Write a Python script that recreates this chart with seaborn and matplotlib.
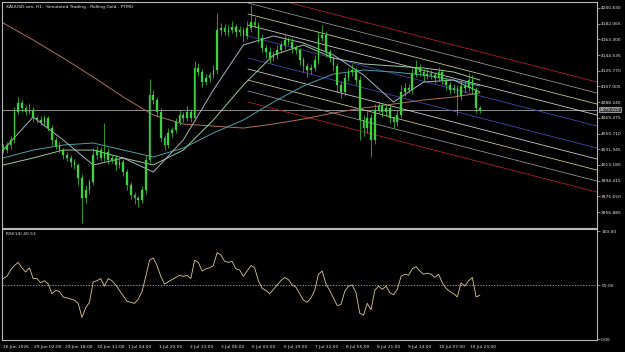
import numpy as np
import pandas as pd
import matplotlib
matplotlib.use("Agg")
import matplotlib.pyplot as plt
import matplotlib.transforms as mtransforms
import seaborn as sns

# ---------------- data ----------------
close = [4031.0, 4037.0, 4043.0, 4076.5, 4087.2, 4081.3, 4076.5, 4078.9, 4069.3, 4066.9,
         4064.5, 4069.3, 4057.3, 4043.0, 4035.8, 4031.0, 4025.1, 4021.5, 4016.7, 4013.1,
         3997.6, 3973.6, 3983.2, 3992.8, 4025.1, 4031.0, 4021.5, 4028.6, 4019.1, 4021.5,
         4013.1, 4016.7, 4004.7, 3989.2, 3977.2, 3973.6, 3971.2, 3983.2, 4019.1, 4096.8,
         4090.8, 4076.5, 4045.4, 4037.0, 4051.4, 4054.9, 4064.5, 4072.9, 4069.3, 4076.5,
         4069.3, 4129.1, 4124.3, 4112.3, 4117.1, 4120.7, 4126.7, 4174.5, 4176.9, 4172.1,
         4174.5, 4178.1, 4172.1, 4174.5, 4167.4, 4176.9, 4184.1, 4180.5, 4165.0, 4153.0,
         4148.2, 4141.0, 4144.6, 4150.6, 4156.6, 4162.6, 4160.2, 4153.0, 4150.6, 4138.6,
         4131.5, 4126.7, 4129.1, 4138.6, 4165.0, 4168.6, 4148.2, 4141.0, 4131.5, 4108.8,
         4100.4, 4117.1, 4124.3, 4126.7, 4114.7, 4066.9, 4057.3, 4069.3, 4043.0, 4078.9,
         4083.6, 4076.5, 4081.3, 4069.3, 4064.5, 4072.9, 4100.4, 4105.2, 4102.8, 4121.9,
         4129.1, 4124.3, 4119.5, 4121.9, 4120.7, 4117.1, 4124.3, 4114.7, 4108.8, 4102.8,
         4105.2, 4095.6, 4107.6, 4105.2, 4114.7, 4102.8, 4080.8, 4079.0]
first_open = 4035.0
wick_up = [3, 4, 5, 6, 7, 4, 3, 8, 4, 3, 5, 4, 3, 4, 3, 5, 3, 4, 3, 4,
           3, 5, 6, 4, 8, 5, 4, 35, 5, 4, 3, 5, 3, 4, 3, 4, 3, 5, 6, 19,
           6, 4, 5, 4, 6, 4, 5, 6, 4, 7, 3, 8, 6, 4, 5, 4, 6, 20, 6, 5,
           6, 7, 4, 5, 4, 8, 20, 6, 4, 5, 4, 6, 5, 6, 5, 6, 4, 5, 4, 3,
           4, 3, 5, 6, 8, 12, 5, 4, 3, 4, 5, 6, 5, 7, 4, 5, 6, 8, 5, 7,
           6, 4, 5, 4, 3, 6, 8, 6, 5, 7, 10, 5, 4, 6, 5, 4, 6, 4, 3, 4,
           5, 4, 7, 5, 8, 6, 4, 3]
wick_dn = [4, 3, 5, 4, 3, 5, 4, 3, 5, 4, 3, 5, 4, 6, 4, 3, 5, 4, 6, 5,
           8, 30, 6, 5, 4, 5, 3, 4, 5, 4, 6, 4, 5, 6, 5, 7, 8, 4, 5, 4,
           5, 6, 5, 6, 4, 5, 3, 4, 5, 4, 5, 4, 5, 6, 4, 5, 4, 5, 6, 4,
           5, 4, 6, 5, 7, 4, 5, 4, 6, 5, 7, 6, 4, 5, 4, 5, 4, 6, 5, 6,
           7, 8, 5, 4, 5, 4, 6, 5, 6, 8, 7, 5, 4, 5, 6, 24, 10, 6, 20, 5,
           4, 6, 5, 6, 7, 5, 4, 5, 4, 5, 4, 5, 6, 4, 5, 6, 4, 5, 6, 5,
           4, 23, 5, 6, 4, 5, 6, 4]

rsi = [56, 58, 64, 68, 71, 66, 62, 66, 56, 56, 52, 54, 51, 42, 45, 44, 39, 38, 37, 36,
       33, 20, 29, 34, 53, 54, 56, 49, 56, 54, 50, 45, 40, 35, 34, 33, 37, 44, 58, 73,
       75, 68, 58, 51, 53, 55, 57, 59, 58, 59, 56, 73, 71, 63, 65, 66, 68, 80, 78, 72,
       71, 72, 65, 64, 58, 63, 68, 66, 54, 47, 45, 42, 46, 50, 54, 57, 55, 50, 48, 42,
       36, 34, 38, 45, 60, 63, 51, 45, 38, 31, 32, 44, 49, 50, 43, 24, 22, 33, 27, 45,
       49, 46, 49, 43, 41, 46, 58, 60, 59, 65, 67, 63, 60, 61, 60, 57, 60, 52, 47, 44,
       42, 39, 52, 49, 54, 57, 39, 40.53]

ma_bar = [0, 8, 16, 24, 32, 40, 48, 56, 64, 72, 80, 88, 96, 104, 112, 120, 127]
ma_fast = [4031.0, 4070.5, 4043.0, 4013.1, 4021.5, 4004.7, 4043.0, 4102.8, 4156.6,
           4167.4, 4159.0, 4144.6, 4120.7, 4088.4, 4112.3, 4114.7, 4100.4]
ma_mid = [4013.1, 4021.5, 4031.0, 4031.0, 4021.5, 4013.1, 4031.0, 4066.9, 4108.8,
          4144.6, 4156.6, 4141.0, 4133.9, 4131.5, 4129.1, 4124.3, 4114.7]
ma_slow = [4021.5, 4031.0, 4037.0, 4039.4, 4031.0, 4022.7, 4033.4, 4051.4, 4066.9,
           4088.4, 4107.6, 4121.9, 4126.7, 4124.3, 4120.7, 4114.7, 4107.6]
ma_long = [4182.9, 4162.6, 4141.0, 4118.3, 4094.4, 4072.9, 4062.1, 4059.7, 4057.3,
           4062.1, 4068.1, 4075.3, 4081.3, 4086.0, 4090.8, 4094.4, 4099.2]

bid_price = 4079.02
price_ticks = [4200.830, 4182.065, 4163.300, 4144.535, 4125.770, 4107.005, 4088.240,
               4069.475, 4050.710, 4031.945, 4013.180, 3994.415, 3975.650, 3956.885]
rsi_ticks = [0, 50, 100]
rsi_level = 50
date_labels = ["26 Jun 2026", "29 Jun 02:00", "29 Jun 18:00", "30 Jun 11:00",
               "1 Jul 04:00", "1 Jul 20:00", "2 Jul 13:00", "3 Jul 06:00",
               "6 Jul 03:00", "6 Jul 19:00", "7 Jul 12:00", "8 Jul 05:00",
               "8 Jul 21:00", "9 Jul 14:00", "10 Jul 07:00", "10 Jul 23:00"]

# deviation channel (start/end bar, centre price at each end, level multiples)
chan_bar = [65.2, 158.2]
chan_center = [4154.2, 4046.5]
chan_step = 13.16
chan_levels = [5, 4, 3, 2, 1, -1, -2, -3, -4, -5]
chan_colors = ["#b8222a", "#9a9a9a", "#d6d28a", "#d8d8d8", "#4a4ab8",
               "#4a4ab8", "#d8d8d8", "#d6d28a", "#9a9a9a", "#b8222a"]

title_main = "XAUUSD.sim, H1:  Simulated Trading - Rolling Gold - PTMO"
title_rsi = "RSI(14) 40.53"

# ---------------- styling ----------------
sns.set_theme(style="dark")
plt.rcParams["font.family"] = ["DejaVu Sans"]
FG = "#e8e8e8"
GRID = "#b8b8b8"
FS = 3.2

n = len(close)
bars = np.arange(n)
df = pd.DataFrame({"bar": bars, "close": close})
df["open"] = [first_open] + close[:-1]
df["high"] = df[["open", "close"]].max(axis=1) + np.array(wick_up)
df["low"] = df[["open", "close"]].min(axis=1) - np.array(wick_dn)

fig = plt.figure(figsize=(6.25, 3.52), dpi=100, facecolor="black")
ax = fig.add_axes([2 / 625, 1 - 228 / 352, 595 / 625, 226 / 352])
ax2 = fig.add_axes([2 / 625, 1 - 340 / 352, 595 / 625, 111 / 352])

XMIN, XMAX = -0.3, 158.2
for a in (ax, ax2):
    a.set_facecolor("black")
    a.set_xlim(XMIN, XMAX)
    for s in a.spines.values():
        s.set_color(GRID)
        s.set_linewidth(0.8)
    a.grid(False)

# ---- main price panel ----
ax.set_ylim(3937.8, 4208.0)
ax.axhline(bid_price, color="#8c8c8c", lw=0.7, zorder=1)

# channel
for lev, col in zip(chan_levels, chan_colors):
    ys = [c + lev * chan_step for c in chan_center]
    ax.plot(chan_bar, ys, color=col, lw=0.55, zorder=2)

# moving averages
sns.lineplot(x=ma_bar, y=ma_long, ax=ax, color="#b0705a", lw=0.7, zorder=2)
sns.lineplot(x=ma_bar, y=ma_slow, ax=ax, color="#4fa0a8", lw=0.7, zorder=2)
sns.lineplot(x=ma_bar, y=ma_mid, ax=ax, color="#9cc8a0", lw=0.7, zorder=2)
sns.lineplot(x=ma_bar, y=ma_fast, ax=ax, color="#a8b4c0", lw=0.7, zorder=2)

# candles
green = "#3cd23c"
ax.vlines(df["bar"], df["low"], df["high"], color=green, lw=0.5, zorder=3)
body_lo = df[["open", "close"]].min(axis=1)
body_h = (df["close"] - df["open"]).abs().clip(lower=1.0)
ax.bar(df["bar"], body_h, bottom=body_lo, width=0.45, color=green,
       edgecolor=green, linewidth=0.2, zorder=4)

ax.yaxis.tick_right()
ax.set_yticks(price_ticks)
ax.set_yticklabels([f"{p:.3f}" for p in price_ticks])
ax.tick_params(axis="y", colors=GRID, labelcolor=FG, labelsize=FS, length=2,
               width=0.5, pad=1.0)
ax.set_xticks([])
ax.set_xlabel("")
ax.set_ylabel("")
ax.text(0.006, 0.985, title_main, transform=ax.transAxes, color=FG, fontsize=FS,
        ha="left", va="top")
trans = mtransforms.blended_transform_factory(ax.transAxes, ax.transData)
ax.text(1.004, bid_price, f"{bid_price:.3f}", transform=trans, color="#f0f0f0",
        fontsize=FS, ha="left", va="center",
        bbox=dict(boxstyle="square,pad=0.12", fc="#3a3a3a", ec="#c8c8c8", lw=0.5))

# ---- RSI panel ----
ax2.set_ylim(-0.9, 101.9)
ax2.axhline(rsi_level, color="#c8c8c8", lw=0.5, ls=(0, (2, 2)), zorder=1)
sns.lineplot(x=bars, y=rsi, ax=ax2, color="#dccb94", lw=0.6, zorder=2)
ax2.yaxis.tick_right()
ax2.set_yticks(rsi_ticks)
ax2.set_yticklabels([f"{v:.2f}" for v in rsi_ticks])
ax2.tick_params(axis="y", colors=GRID, labelcolor=FG, labelsize=FS, length=2,
                width=0.5, pad=1.0)
tick_pos = np.arange(len(date_labels)) * 8.3
ax2.set_xticks(tick_pos)
ax2.set_xticklabels(date_labels, ha="left")
ax2.tick_params(axis="x", colors=GRID, labelcolor=FG, labelsize=FS, length=3,
                width=0.5, pad=0.5, direction="out")
ax2.set_xlabel("")
ax2.set_ylabel("")
ax2.text(0.006, 0.97, title_rsi, transform=ax2.transAxes, color=FG, fontsize=FS,
         ha="left", va="top")

fig.savefig("out.png", dpi=100, facecolor="black")
